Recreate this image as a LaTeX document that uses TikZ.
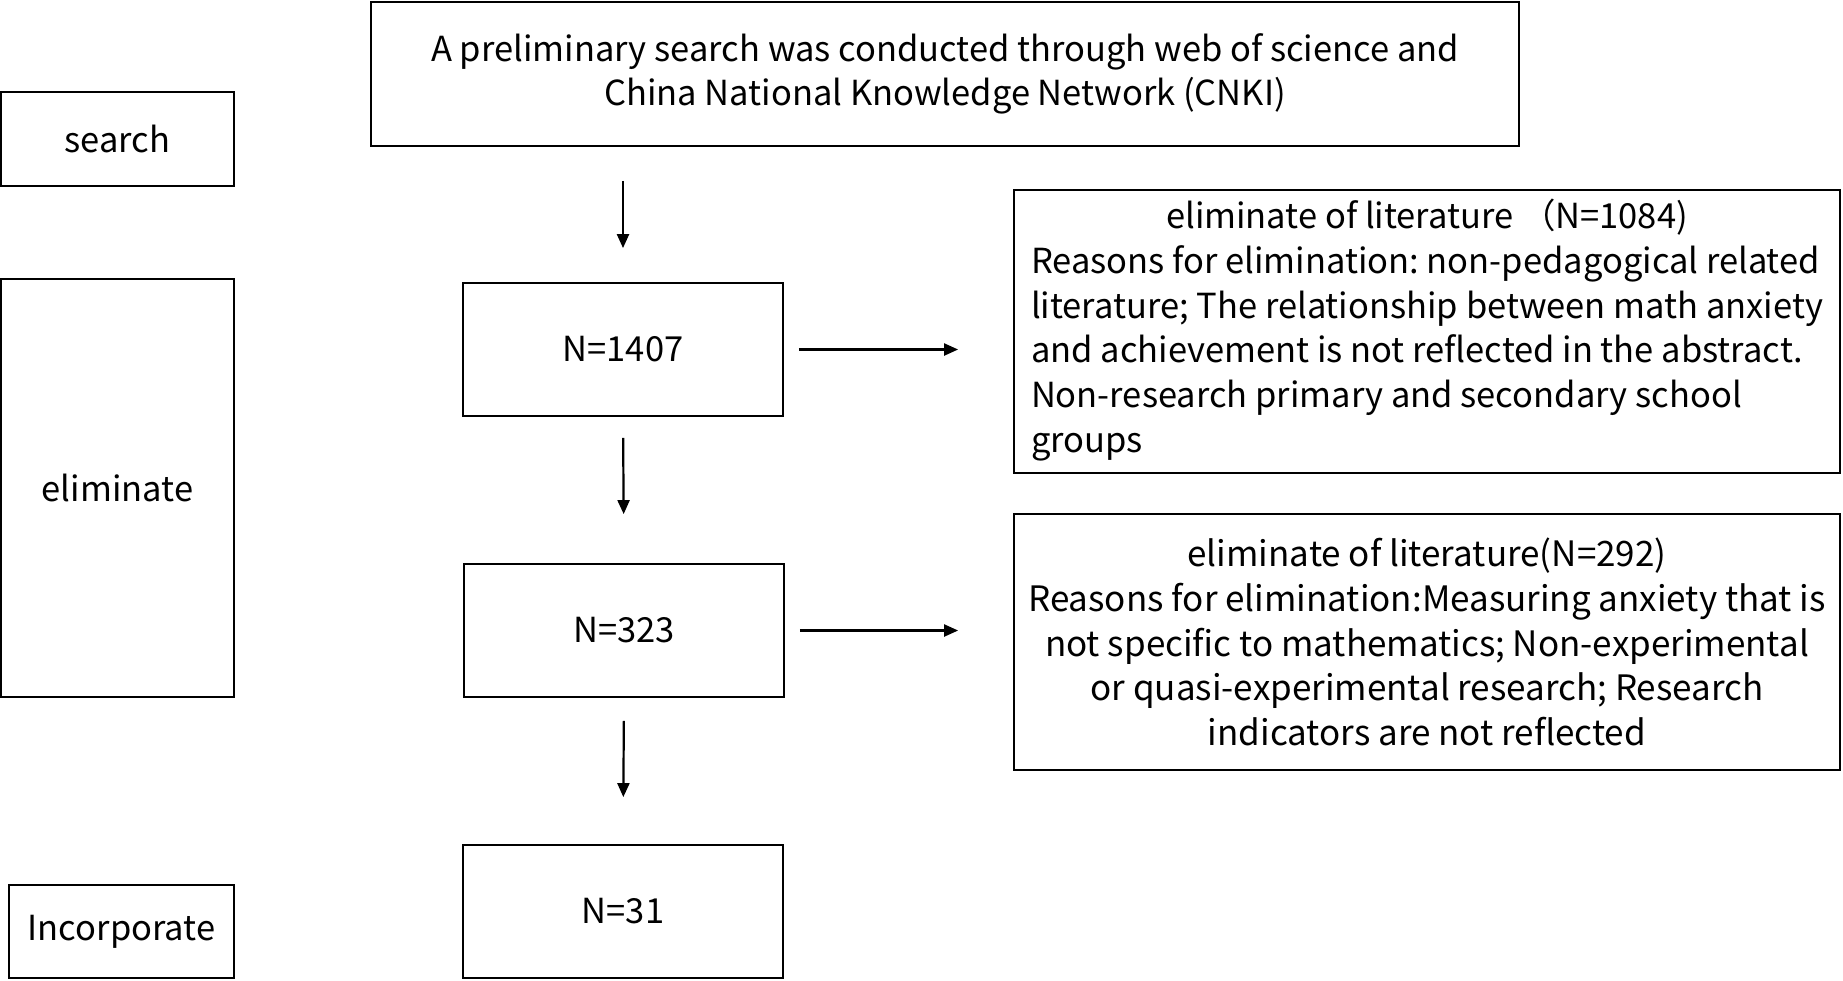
\documentclass[tikz,border=0pt]{standalone}
\usepackage{fontspec}
\setmainfont{Noto Sans CJK SC}
\usepackage{tikz}
\usetikzlibrary{arrows.meta}
\frenchspacing

\begin{document}
\begin{tikzpicture}[x=1pt,y=-1pt,
  box/.style={draw,line width=1.8pt,inner sep=0pt,align=center,font=\fontsize{34.5}{44.7}\selectfont},
  arr/.style={-{Triangle[length=14pt,width=12pt]},line width=2.2pt}]
\useasboundingbox (0,0) rectangle (1843,980);
% left column
\node [box,minimum width=233,minimum height=94] (search) at (117.5,139) {search};
\node [box,minimum width=233,minimum height=418] (elim) at (117.5,488) {eliminate};
\node [box,minimum width=225,minimum height=93] (incorp) at (121.5,931.5) {Incorporate};
% main column
\node [box,minimum width=1148,minimum height=144] (start) at (945,74)
  {A preliminary search was conducted through web of science and\\China National Knowledge Network (CNKI)};
\node [box,minimum width=320,minimum height=133] (n1407) at (623,349.5) {N=1407};
\node [box,minimum width=320,minimum height=133] (n323) at (624,630.5) {N=323};
\node [box,minimum width=320,minimum height=133] (n31) at (623,911.5) {N=31};
% excluded
\node [box,minimum width=826,minimum height=283] (ex1) at (1427,331.5)
  {\begin{tabular}{@{}l@{}}
   \multicolumn{1}{@{}c@{}}{eliminate of literature （N=1084)}\\
   Reasons for elimination: non-pedagogical related\\
   literature; The relationship between math anxiety\\
   and achievement is not reflected in the abstract.\\
   Non-research primary and secondary school\\
   groups
   \end{tabular}};
\node [box,minimum width=826,minimum height=256,font=\fontsize{35}{44.7}\selectfont] (ex2) at (1427,642)
  {eliminate of literature(N=292)\\
   Reasons for elimination:Measuring anxiety that is\\
   not specific to mathematics; Non-experimental\\
   or quasi-experimental research; Research\\
   indicators are not reflected};
% arrows
\draw [arr,shorten <=34pt,shorten >=34pt] (start.south -| n1407.north) -- (n1407.north);
\draw [arr,shorten <=21pt,shorten >=49pt] (n1407.south) -- (n323.north);
\draw [arr,shorten <=23pt,shorten >=47pt] (n323.south) -- (n31.north);
\draw [arr,shorten <=15pt,shorten >=55pt] (n1407.east) -- (n1407.east -| ex1.west);
\draw [arr,shorten <=15pt,shorten >=55pt] (n323.east) -- (n323.east -| ex2.west);
\end{tikzpicture}
\end{document}
